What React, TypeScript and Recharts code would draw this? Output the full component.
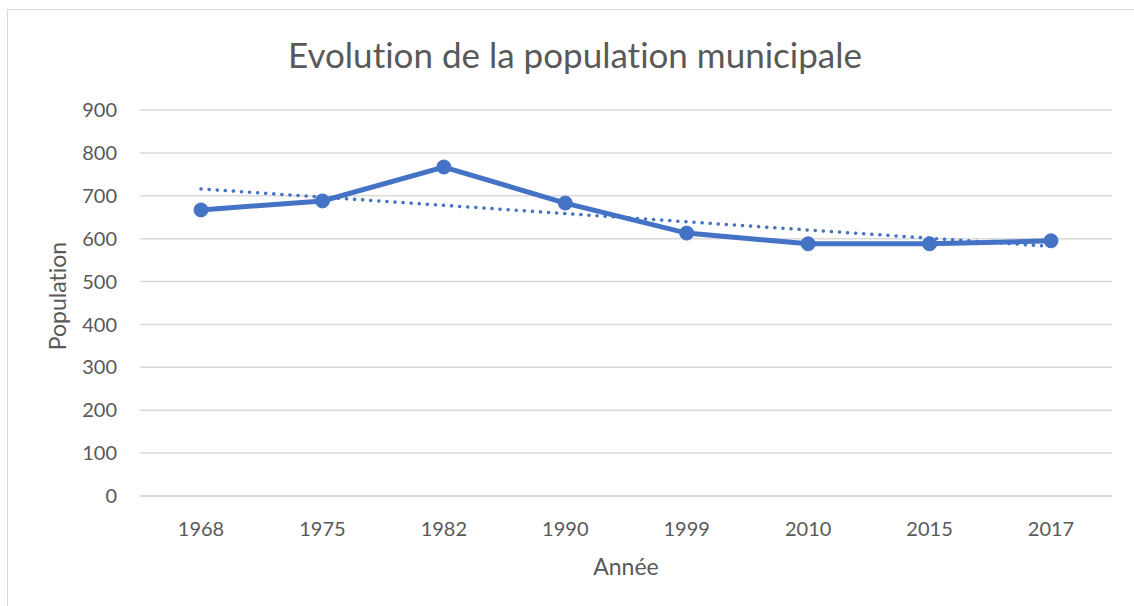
import { CartesianGrid, Line, LineChart, XAxis, YAxis } from "recharts";

const YEARS = ["1968", "1975", "1982", "1990", "1999", "2010", "2015", "2017"];
const POPULATION = [667, 688, 767, 683, 613, 588, 588, 595];
// linear trendline, only the two ends
const TREND = [716, null, null, null, null, null, null, 582];
const Y_TICKS = [0, 100, 200, 300, 400, 500, 600, 700, 800, 900];

const FONT = "Lato, 'Open Sans', sans-serif";
const TEXT_COLOR = "#595959";
const LINE_COLOR = "#4472C4";
const GRID_COLOR = "#d9d9d9";

const data = YEARS.map((year, i) => ({
  year,
  population: POPULATION[i],
  trend: TREND[i],
}));

export default function App() {
  return (
    <div
      style={{
        position: "absolute",
        left: 0,
        top: 0,
        width: 1134,
        height: 606,
        overflow: "hidden",
        background: "#fff",
        fontFamily: FONT,
        fontVariantLigatures: "none",
      }}
    >
      <div
        style={{
          position: "absolute",
          left: 7,
          top: 9,
          width: 1200,
          height: 700,
          border: `1.5px solid ${GRID_COLOR}`,
        }}
      />
      <div
        style={{
          position: "absolute",
          left: 0,
          width: 1150,
          top: 33,
          textAlign: "center",
          fontSize: 35,
          color: TEXT_COLOR,
          lineHeight: "42px",
        }}
      >
        Evolution de la population municipale
      </div>
      <div
        style={{
          position: "absolute",
          left: 626,
          top: 566,
          transform: "translate(-50%, -50%)",
          fontSize: 23,
          color: TEXT_COLOR,
          whiteSpace: "nowrap",
        }}
      >
        Année
      </div>
      <div
        style={{
          position: "absolute",
          left: 57,
          top: 296,
          transform: "translate(-50%, -50%) rotate(-90deg)",
          fontSize: 23,
          color: TEXT_COLOR,
          whiteSpace: "nowrap",
        }}
      >
        Population
      </div>
      <div style={{ position: "absolute", left: 0, top: 0 }}>
        <LineChart
          width={1134}
          height={606}
          data={data}
          margin={{ top: 110, right: 22, bottom: 60, left: 60 }}
        >
          <CartesianGrid vertical={false} stroke={GRID_COLOR} strokeWidth={1.5} />
          <XAxis
            dataKey="year"
            height={50}
            padding={{ left: 61, right: 61 }}
            axisLine={{ stroke: GRID_COLOR, strokeWidth: 1.5 }}
            tickLine={false}
            tickSize={0}
            tickMargin={26}
            tick={{ fill: TEXT_COLOR, fontSize: 20, fontFamily: FONT }}
          />
          <YAxis
            width={80}
            domain={[0, 900]}
            ticks={Y_TICKS}
            axisLine={false}
            tickLine={false}
            tickSize={0}
            tickMargin={23}
            tick={{ fill: TEXT_COLOR, fontSize: 20, fontFamily: FONT }}
          />
          <Line
            dataKey="trend"
            connectNulls
            stroke={LINE_COLOR}
            strokeWidth={3.5}
            strokeDasharray="0.1 8"
            strokeLinecap="round"
            dot={false}
            activeDot={false}
            isAnimationActive={false}
          />
          <Line
            dataKey="population"
            stroke={LINE_COLOR}
            strokeWidth={5}
            dot={{ r: 7, fill: LINE_COLOR, stroke: LINE_COLOR, strokeWidth: 1 }}
            activeDot={false}
            isAnimationActive={false}
          />
        </LineChart>
      </div>
    </div>
  );
}
